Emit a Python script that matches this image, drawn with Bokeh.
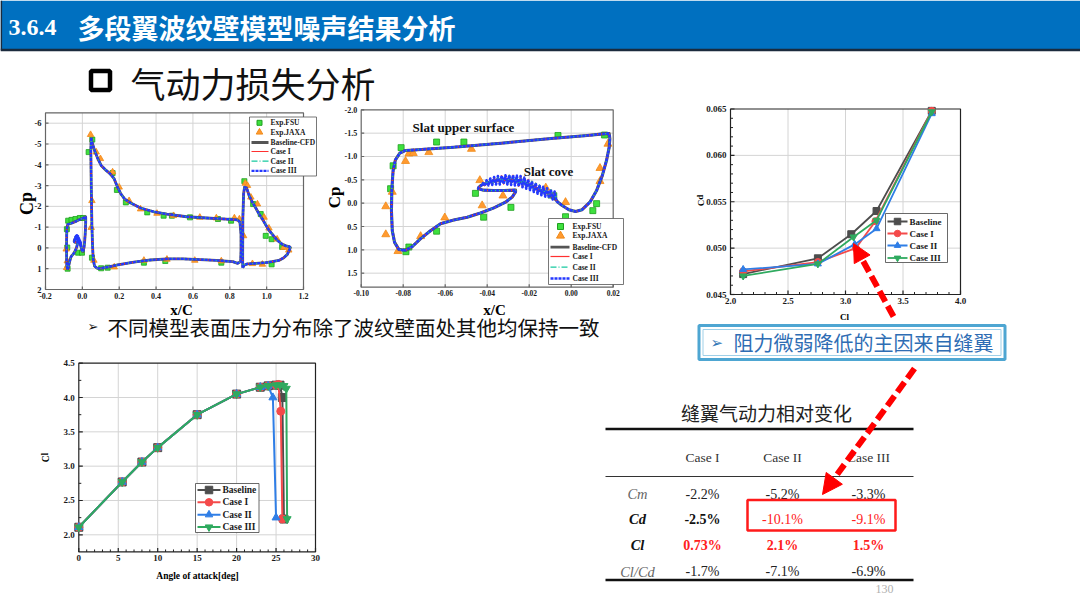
from bokeh.plotting import figure
from bokeh.models import Range1d, Arrow, NormalHead
from bokeh.core.properties import value
from bokeh.embed import file_html
from bokeh.resources import INLINE

# ======================= DATA =======================
# --- Slat Cp (shared by both Cp charts) ---
slat_up_x = [-0.0797, -0.0821, -0.0841, -0.0852, -0.0856, -0.0854, -0.0848, -0.0837, -0.0816, -0.0789,
             -0.0749, -0.0559, -0.0321, -0.0083, 0.0076, 0.0164, 0.0181, 0.0184, 0.0181, 0.0168,
             0.0148, 0.0121, 0.0089, 0.0052, 0.0021, -0.0011, -0.0043, -0.0063]
slat_up_cp = [1.01, 0.99, 0.84, 0.59, 0.16, -0.31, -0.70, -0.93, -1.07, -1.13,
              -1.14, -1.20, -1.29, -1.39, -1.45, -1.49, -1.49, -1.38, -1.20, -0.91,
              -0.59, -0.27, -0.02, 0.14, 0.18, 0.14, 0.05, -0.02]
# corrugated (wavy) cove wall - cases
cove_case_x = [-0.0070, -0.0079, -0.0088, -0.0097, -0.0106, -0.0115, -0.0124, -0.0133, -0.0142, -0.0151,
               -0.0160, -0.0169, -0.0178, -0.0187, -0.0196, -0.0205, -0.0214, -0.0223, -0.0232, -0.0241,
               -0.0250, -0.0259, -0.0268, -0.0277, -0.0286, -0.0295, -0.0304, -0.0313, -0.0322, -0.0331,
               -0.0340, -0.0349, -0.0358, -0.0367, -0.0376, -0.0385, -0.0394, -0.0403, -0.0412, -0.0421,
               -0.0430]
cove_case_cp = [-0.04, -0.25, -0.08, -0.29, -0.11, -0.32, -0.14, -0.35, -0.17, -0.39,
                -0.20, -0.43, -0.24, -0.47, -0.28, -0.51, -0.31, -0.55, -0.34, -0.58,
                -0.36, -0.59, -0.38, -0.60, -0.39, -0.60, -0.40, -0.60, -0.41, -0.59,
                -0.40, -0.58, -0.40, -0.56, -0.39, -0.53, -0.38, -0.49, -0.37, -0.43,
                -0.37]
# smooth cove wall - baseline
cove_base_x = [-0.0070, -0.0115, -0.0151, -0.0187, -0.0223, -0.0259, -0.0295, -0.0331, -0.0367, -0.0403, -0.0430]
cove_base_cp = [-0.06, -0.22, -0.28, -0.36, -0.44, -0.48, -0.50, -0.50, -0.48, -0.43, -0.38]
slat_low_x = [-0.0440, -0.0442, -0.0420, -0.0370, -0.0320, -0.0265, -0.0265, -0.0281, -0.0313, -0.0368,
              -0.0432, -0.0495, -0.0559, -0.0622, -0.0670, -0.0717, -0.0757, -0.0789, -0.0797]
slat_low_cp = [-0.34, -0.31, -0.28, -0.27, -0.27, -0.28, -0.24, -0.13, -0.02, 0.10,
               0.21, 0.30, 0.36, 0.44, 0.59, 0.76, 0.93, 1.01, 1.01]

# --- Main element and flap Cp ---
main_x = [0.048, 0.052, 0.066, 0.084, 0.102, 0.129, 0.155, 0.173, 0.191, 0.209, 0.230, 0.2625, 0.316,
          0.3875, 0.459, 0.566, 0.673, 0.780, 0.843, 0.855, 0.861, 0.861, 0.859, 0.843, 0.816, 0.727,
          0.6375, 0.548, 0.459, 0.370, 0.280, 0.191, 0.1375, 0.102, 0.080, 0.066, 0.059, 0.055, 0.052,
          0.048, 0.046, 0.048]
main_cp = [-5.30, -5.10, -4.69, -4.29, -3.97, -3.73, -3.53, -3.32, -2.92, -2.60, -2.35, -2.16, -1.92,
           -1.74, -1.63, -1.50, -1.44, -1.39, -1.35, -1.23, -0.66, 0.15, 0.66, 0.74, 0.66, 0.60,
           0.56, 0.53, 0.53, 0.58, 0.68, 0.82, 0.92, 0.98, 0.98, 0.87, 0.55, -0.18, -0.98,
           -3.08, -4.69, -5.30]
flap_x = [0.870, 0.870, 0.871, 0.875, 0.880, 0.891, 0.905, 0.923, 0.941, 0.959, 0.977, 0.995, 1.0125,
          1.030, 1.057, 1.084, 1.105, 1.123, 1.129, 1.123, 1.1125, 1.093, 1.066, 1.030, 0.995, 0.941,
          0.896, 0.879, 0.870]
flap_cp = [0.95, 0.15, -1.47, -2.60, -2.92, -2.89, -2.52, -2.19, -1.92, -1.63, -1.39, -1.11, -0.85,
           -0.66, -0.37, -0.18, -0.10, -0.06, -0.02, 0.11, 0.31, 0.47, 0.60, 0.66, 0.71, 0.74,
           0.77, 0.82, 0.95]

# --- Experiments, full-airfoil chart ---
fsu_full = [(-0.077, -1.31), (-0.059, -1.35), (-0.0375, -1.39), (-0.014, -1.44), (0.004, -1.44),
            (-0.084, -0.90), (-0.082, -0.02), (-0.080, 1.00), (-0.023, 0.23), (-0.002, 0.23),
            (0.034, -4.61), (0.054, -5.21), (0.164, -3.60), (0.1875, -2.79), (0.236, -2.19),
            (0.352, -1.71), (0.441, -1.55), (0.486, -1.55), (0.584, -1.47), (0.736, -1.39),
            (0.807, -1.31), (0.052, 0.47), (0.102, 0.98), (0.1375, 0.95), (0.334, 0.71),
            (0.45, 0.63), (0.754, 0.71), (0.879, -3.21), (0.9268, -2.11), (0.968, -1.63),
            (0.995, -0.58), (1.027, -0.42), (1.084, -0.05), (1.027, 0.79)]
jaxa_full = [(-0.0875, 0.06), (-0.082, 0.63), (-0.0857, 0.95), (0.0446, -5.45), (0.075, -4.61),
             (0.098, -4.29), (0.164, -3.65), (0.200, -2.92), (0.2536, -2.27), (0.316, -1.87),
             (0.405, -1.66), (0.495, -1.55), (0.6375, -1.47), (0.727, -1.44), (0.825, -1.44),
             (0.852, -1.39), (0.048, -0.98), (0.052, -2.27), (0.0625, 0.60), (0.173, 0.92),
             (0.334, 0.60), (0.459, 0.55), (0.610, 0.60), (0.754, 0.63), (0.875, -0.58),
             (0.884, -3.11), (0.896, -3.00), (0.9143, -2.44), (0.950, -2.11), (0.986, -1.47),
             (1.0125, -0.95), (1.057, -0.42), (1.093, -0.02), (1.120, 0.11), (0.977, 0.79),
             (0.923, 0.76)]

# --- Experiments, slat chart ---
fsu_slat = [(-0.0810, -1.19), (-0.0848, -0.80), (-0.0860, -0.31), (-0.0787, 1.04), (-0.0773, 0.94),
            (-0.0641, -1.31), (-0.0511, -1.31), (-0.0063, -1.45), (0.0159, -1.46), (-0.0456, -0.21),
            (-0.0417, 0.30), (-0.0287, 0.09), (-0.0083, -0.16), (-0.0027, 0.29), (0.0103, 0.16),
            (0.0121, 0.01), (-0.0641, 0.60)]
jaxa_slat = [(-0.0883, 0.07), (-0.0883, 0.67), (-0.0852, -0.24), (-0.0825, 1.03), (-0.0789, -0.90),
             (-0.0773, -1.06), (-0.0752, -1.07), (-0.0678, -1.09), (-0.0475, -1.16), (-0.0717, 0.71),
             (-0.0602, 0.31), (-0.0424, 0.05), (-0.0435, -0.49), (-0.0325, -0.16), (-0.0121, -0.33),
             (-0.0027, -0.02), (0.0137, -0.75), (0.0137, -0.47), (0.0175, -1.27)]

# --- Cd vs Cl ---
cl_base = [2.11, 2.76, 3.05, 3.27, 3.75]
cd_base = [0.0472, 0.0489, 0.0515, 0.0540, 0.0648]
cl_c1 = [2.11, 2.76, 3.09, 3.26, 3.75]
cd_c1 = [0.0475, 0.0485, 0.0500, 0.0529, 0.0648]
cl_c2 = [2.11, 2.76, 3.08, 3.27, 3.75]
cd_c2 = [0.0477, 0.0483, 0.0504, 0.0521, 0.0645]
cl_c3 = [2.11, 2.76, 3.07, 3.27, 3.75]
cd_c3 = [0.0470, 0.0483, 0.0512, 0.0530, 0.0647]

# --- Cl vs angle of attack ---
aoa_base = [0, 5.5, 8, 10, 15, 20, 23, 24, 25, 25.5, 25.8, 26.0]
cla_base = [2.11, 2.77, 3.06, 3.27, 3.75, 4.05, 4.15, 4.17, 4.18, 4.18, 4.00, 2.23]
aoa_c1 = [0, 5.5, 8, 10, 15, 20, 23, 24, 25, 25.3, 25.6, 25.8]
cla_c1 = [2.11, 2.77, 3.06, 3.27, 3.75, 4.05, 4.15, 4.17, 4.18, 4.19, 3.80, 2.23]
aoa_c2 = [0, 5.5, 8, 10, 15, 20, 23, 24, 24.6, 25.0]
cla_c2 = [2.11, 2.77, 3.06, 3.27, 3.75, 4.05, 4.15, 4.17, 4.00, 2.25]
aoa_c3 = [0, 5.5, 8, 10, 15, 20, 23, 24, 25, 25.5, 26.0, 26.3, 26.4]
cla_c3 = [2.11, 2.77, 3.06, 3.27, 3.75, 4.05, 4.15, 4.17, 4.18, 4.18, 4.17, 4.13, 2.23]

# --- Table ---
tbl_title = "缝翼气动力相对变化"
tbl_cols = ["Case I", "Case II", "Case III"]
tbl_rows = ["Cm", "Cd", "Cl", "Cl/Cd"]
tbl_vals = [["-2.2%", "-5.2%", "-3.3%"],
            ["-2.5%", "-10.1%", "-9.1%"],
            ["0.73%", "2.1%", "1.5%"],
            ["-1.7%", "-7.1%", "-6.9%"]]

# --- Tick labels ---
c1_xt = [-0.2, 0.0, 0.2, 0.4, 0.6, 0.8, 1.0, 1.2]
c1_xl = ["-0.2", "0.0", "0.2", "0.4", "0.6", "0.8", "1.0", "1.2"]
c1_yt = [-6, -5, -4, -3, -2, -1, 0, 1, 2]
c1_yl = ["-6", "-5", "-4", "-3", "-2", "-1", "0", "1", "2"]
c2_xt = [-0.10, -0.08, -0.06, -0.04, -0.02, 0.00, 0.02]
c2_xl = ["-0.10", "-0.08", "-0.06", "-0.04", "-0.02", "0.00", "0.02"]
c2_yt = [-2.0, -1.5, -1.0, -0.5, 0.0, 0.5, 1.0, 1.5]
c2_yl = ["-2.0", "-1.5", "-1.0", "-0.5", "0.0", "0.5", "1.0", "1.5"]
c3_xt = [2.0, 2.5, 3.0, 3.5, 4.0]
c3_xl = ["2.0", "2.5", "3.0", "3.5", "4.0"]
c3_yt = [0.045, 0.050, 0.055, 0.060, 0.065]
c3_yl = ["0.045", "0.050", "0.055", "0.060", "0.065"]
c4_xt = [0, 5, 10, 15, 20, 25, 30]
c4_xl = ["0", "5", "10", "15", "20", "25", "30"]
c4_yt = [2.0, 2.5, 3.0, 3.5, 4.0, 4.5]
c4_yl = ["2.0", "2.5", "3.0", "3.5", "4.0", "4.5"]

# ======================= FIGURE =======================
W, H = 1080, 607
p = figure(width=W, height=H, x_range=Range1d(0, W), y_range=Range1d(H, 0),
           output_backend="svg", toolbar_location=None, min_border=0, tools="",
           x_axis_location=None, y_axis_location=None)
p.xgrid.visible = False
p.ygrid.visible = False
p.outline_line_color = None
p.background_fill_color = "white"
p.border_fill_color = "white"

SERIF = value("Liberation Serif")
CJK = value("Noto Sans CJK SC")
SYM = value("DejaVu Sans")


def txt(x, y, s, size, font=SERIF, style="normal", color="#000000", align="left",
        base="middle", angle=0.0, **kw):
    p.text(x=[x], y=[y], text=[s], text_font=font, text_font_size=f"{size}px",
           text_font_style=style, text_color=color, text_align=align,
           text_baseline=base, angle=angle, **kw)


class Chart:
    """A sub-plot: its own x/y ranges mapped onto a pixel box of the page."""
    def __init__(self, name, xd, xp, yd, yp):
        (x0, x1), (px0, px1) = xd, xp
        self.sx = (x1 - x0) / (px1 - px0)
        (y0, y1), (py0, py1) = yd, yp
        self.sy = (y1 - y0) / (py1 - py0)
        p.extra_x_ranges[name + "x"] = Range1d(x0 - px0 * self.sx, x0 + (W - px0) * self.sx)
        p.extra_y_ranges[name + "y"] = Range1d(y0 + (H - py0) * self.sy, y0 - py0 * self.sy)
        self.kw = dict(x_range_name=name + "x", y_range_name=name + "y")


def draw_axes(c, xlim, ylim, xt, xl, yt, yl, fs, gx, gy, xminor=(), yminor=(),
              frame="#444444", tmaj=4, tmin=2.5, yfs=None):
    x0, x1 = xlim
    y0, y1 = ylim
    kw = c.kw
    if gx:
        p.segment(x0=gx, y0=[y0] * len(gx), x1=gx, y1=[y1] * len(gx),
                  line_color="#d4d4d4", line_width=1, **kw)
    if gy:
        p.segment(x0=[x0] * len(gy), y0=gy, x1=[x1] * len(gy), y1=gy,
                  line_color="#d4d4d4", line_width=1, **kw)
    p.quad(left=[x0], right=[x1], bottom=[y0], top=[y1], fill_color=None,
           line_color=frame, line_width=1.2, **kw)
    p.segment(x0=xt, y0=[y0] * len(xt), x1=xt, y1=[y0 - tmaj * c.sy] * len(xt),
              line_color=frame, line_width=1.2, **kw)
    p.segment(x0=[x0] * len(yt), y0=yt, x1=[x0 + tmaj * c.sx] * len(yt), y1=yt,
              line_color=frame, line_width=1.2, **kw)
    if xminor:
        xm = list(xminor)
        p.segment(x0=xm, y0=[y0] * len(xm), x1=xm, y1=[y0 - tmin * c.sy] * len(xm),
                  line_color=frame, line_width=1, **kw)
    if yminor:
        ym = list(yminor)
        p.segment(x0=[x0] * len(ym), y0=ym, x1=[x0 + tmin * c.sx] * len(ym), y1=ym,
                  line_color=frame, line_width=1, **kw)
    p.text(x=xt, y=[y0 + 3 * c.sy] * len(xt), text=xl, text_align="center",
           text_baseline="top", text_font=SERIF, text_font_style="bold",
           text_font_size=f"{fs}px", text_color="#1a1a1a", **kw)
    p.text(x=[x0 - 4 * c.sx] * len(yt), y=yt, text=yl, text_align="right",
           text_baseline="middle", text_font=SERIF, text_font_style="bold",
           text_font_size=f"{yfs or fs}px", text_color="#1a1a1a", **kw)


# ---------------- Title bar ----------------
p.quad(left=[0], right=[W], top=[0], bottom=[49], fill_color="#0070c0", line_color=None)
p.line([0, W], [49.5, 49.5], line_color="#1b2b3d", line_width=2.5)
p.line([0.8, 0.8], [0, 50], line_color="#1b2b3d", line_width=1.6)
txt(8, 27, "3.6.4", 24, style="bold", color="white")
txt(77, 27, "多段翼波纹壁模型噪声结果分析", 27, font=CJK, style="bold", color="white")

# ---------------- Section heading ----------------
p.quad(left=[90.5], right=[109.5], top=[70.5], bottom=[89.5], fill_color=None,
       line_color="black", line_width=4.5)
txt(130, 82, "气动力损失分析", 35, font=CJK, color="#111111")

# ======================= Chart 1: full airfoil Cp =======================
c1 = Chart("c1", (-0.2, 1.2), (45, 303), (2.0, -6.0), (289, 122.7))
draw_axes(c1, (-0.2, 1.2), (2.0, -6.5), c1_xt, c1_xl, c1_yt, c1_yl, 8,
          [0.0, 0.2, 0.4, 0.6, 0.8, 1.0], [-6, -5, -4, -3, -2, -1, 0, 1],
          frame="#666666", tmaj=3, yfs=8.5)

p.scatter([a for a, b in fsu_full], [b for a, b in fsu_full], marker="square", size=5,
          fill_color="#3ee03e", line_color="#1f9f1f", line_width=0.8, **c1.kw)
p.scatter([a for a, b in jaxa_full], [b for a, b in jaxa_full], marker="triangle", size=6.5,
          fill_color="#ff9a30", line_color="#f08a18", line_width=0.8, **c1.kw)

slat_base_x = slat_up_x + cove_base_x + slat_low_x
slat_base_cp = slat_up_cp + cove_base_cp + slat_low_cp
slat_case_x = slat_up_x + cove_case_x + slat_low_x
slat_case_cp = slat_up_cp + cove_case_cp + slat_low_cp

STY = [("#555555", 2.8, "solid"), ("#ff3030", 1.2, "solid"),
       ("#16c9a0", 1.3, "6 2 1 2"), ("#2438ff", 2.3, "3 1")]


def cp_lines(c, elements, widths_scale=1.0):
    for k, (col, lw, dash) in enumerate(STY):
        for ex_b, ey_b, ex_c, ey_c in elements:
            xs, ys = (ex_b, ey_b) if k == 0 else (ex_c, ey_c)
            p.line(xs, ys, line_color=col, line_width=lw * widths_scale, line_dash=dash,
                   line_join="round", **c.kw)


cp_lines(c1, [(slat_base_x, slat_base_cp, slat_case_x, slat_case_cp),
              (main_x, main_cp, main_x, main_cp),
              (flap_x, flap_cp, flap_x, flap_cp)])

# legend chart 1
p.quad(left=[249], right=[316], top=[116.5], bottom=[175.5], fill_color="white",
       line_color="#555555", line_width=0.8)
lg1_y = [122.3, 131.7, 142.0, 151.0, 160.7, 170.3]
lg_names = ["Exp.FSU", "Exp.JAXA", "Baseline-CFD", "Case I", "Case II", "Case III"]
p.scatter([259], [lg1_y[0]], marker="square", size=5, fill_color="#3ee03e", line_color="#1f9f1f")
p.scatter([259], [lg1_y[1]], marker="triangle", size=6.5, fill_color="#ff9a30", line_color="#f08a18")
for (col, lw, dash), yy in zip(STY, lg1_y[2:]):
    p.line([251, 268], [yy, yy], line_color=col, line_width=lw, line_dash=dash)
p.text(x=[270] * 6, y=lg1_y, text=lg_names, text_font=SERIF, text_font_style="bold",
       text_font_size="7.5px", text_baseline="middle", text_color="#1a1a1a")

txt(26, 203, "Cp", 18, style="bold", align="center", angle=1.5708)
txt(181, 309, "x/C", 15, style="bold", align="center")

# ======================= Chart 2: slat Cp =======================
c2 = Chart("c2", (-0.10, 0.02), (360.7, 612.7), (1.5, -2.0), (272.67, 109.33))
draw_axes(c2, (-0.10, 0.02), (1.8, -2.0), c2_xt, c2_xl, c2_yt, c2_yl, 7.5,
          [-0.08, -0.06, -0.04, -0.02, 0.0], [-1.5, -1.0, -0.5, 0.0, 0.5, 1.0, 1.5],
          frame="#666666", tmaj=3, yfs=8)

p.scatter([a for a, b in fsu_slat], [b for a, b in fsu_slat], marker="square", size=6,
          fill_color="#3ee03e", line_color="#1f9f1f", line_width=0.8, **c2.kw)
p.scatter([a for a, b in jaxa_slat], [b for a, b in jaxa_slat], marker="triangle", size=8,
          fill_color="#ff9a30", line_color="#f08a18", line_width=0.8, **c2.kw)
cp_lines(c2, [(slat_base_x, slat_base_cp, slat_case_x, slat_case_cp)], widths_scale=1.1)

txt(463, 127, "Slat upper surface", 13, style="bold", align="center", color="#111111")
txt(548, 171, "Slat cove", 13, style="bold", align="center", color="#111111")

p.quad(left=[548], right=[623], top=[218], bottom=[284], fill_color="white",
       line_color="#555555", line_width=0.8)
lg2_y = [226.0, 235.3, 246.7, 256.0, 266.7, 278.0]
p.scatter([560], [lg2_y[0]], marker="square", size=6, fill_color="#3ee03e", line_color="#1f9f1f")
p.scatter([560], [lg2_y[1]], marker="triangle", size=8, fill_color="#ff9a30", line_color="#f08a18")
for (col, lw, dash), yy in zip(STY, lg2_y[2:]):
    p.line([550, 569], [yy, yy], line_color=col, line_width=lw, line_dash=dash)
p.text(x=[572] * 6, y=lg2_y, text=lg_names, text_font=SERIF, text_font_style="bold",
       text_font_size="7.5px", text_baseline="middle", text_color="#1a1a1a")

txt(334, 197, "Cp", 17, style="bold", align="center", angle=1.5708)
txt(494, 309, "x/C", 15, style="bold", align="center")

# ---------------- bullet text ----------------
txt(87, 326, "➢", 13, font=SYM, color="#111111")
txt(107, 326, "不同模型表面压力分布除了波纹壁面处其他均保持一致", 20.5, font=CJK, color="#111111")

# ======================= Chart 3: Cd vs Cl =======================
SER = [("Baseline", "#4d4d4d", "square"), ("Case I", "#f44a4a", "circle"),
       ("Case II", "#2f7ee6", "triangle"), ("Case III", "#2faa5f", "inverted_triangle")]
c3 = Chart("c3", (2.0, 4.0), (730, 960), (0.045, 0.065), (294, 108.5))
draw_axes(c3, (2.0, 4.0), (0.045, 0.065), c3_xt, c3_xl, c3_yt, c3_yl, 9,
          [2.5, 3.0, 3.5], [0.050, 0.055, 0.060],
          xminor=[2.0 + 0.1 * i for i in range(1, 20) if i % 5],
          yminor=[0.045 + 0.001 * i for i in range(1, 20) if i % 5],
          frame="#222222")
for (nm, col, mk), xs, ys in zip(SER, [cl_base, cl_c1, cl_c2, cl_c3], [cd_base, cd_c1, cd_c2, cd_c3]):
    p.line(xs, ys, line_color=col, line_width=1.8, **c3.kw)
    p.scatter(xs, ys, marker=mk, size=7, fill_color=col, line_color=col, **c3.kw)

p.quad(left=[885], right=[947], top=[213], bottom=[262], fill_color="white",
       line_color="#444444", line_width=0.8)
lg3_y = [221.0, 233.0, 245.0, 257.5]
for (nm, col, mk), yy in zip(SER, lg3_y):
    p.line([887, 907], [yy, yy], line_color=col, line_width=1.8)
    p.scatter([897], [yy], marker=mk, size=6.5, fill_color=col, line_color=col)
p.text(x=[909] * 4, y=lg3_y, text=[s[0] for s in SER], text_font=SERIF, text_font_style="bold",
       text_font_size="9px", text_baseline="middle", text_color="#1a1a1a")
txt(700, 200, "Cd", 9, style="bold", align="center", angle=1.5708)
txt(844, 316, "Cl", 9, style="bold", align="center")

# ======================= Chart 4: Cl vs alpha =======================
c4 = Chart("c4", (0.0, 30.0), (78.3, 315), (2.0, 4.5), (534.3, 362.7))
draw_axes(c4, (0.0, 30.0), (1.75, 4.5), c4_xt, c4_xl, c4_yt, c4_yl, 9,
          [5, 10, 15, 20, 25], [2.0, 2.5, 3.0, 3.5, 4.0],
          xminor=[i for i in range(1, 30) if i % 5],
          yminor=[2.25, 2.75, 3.25, 3.75, 4.25],
          frame="#222222")
for (nm, col, mk), xs, ys in zip(SER, [aoa_base, aoa_c1, aoa_c2, aoa_c3],
                                 [cla_base, cla_c1, cla_c2, cla_c3]):
    p.line(xs, ys, line_color=col, line_width=2, **c4.kw)
    p.scatter(xs, ys, marker=mk, size=8, fill_color=col, line_color=col, **c4.kw)

p.quad(left=[195], right=[258.5], top=[483], bottom=[532], fill_color="white",
       line_color="#444444", line_width=0.8)
lg4_y = [489.5, 501.8, 514.2, 526.6]
for (nm, col, mk), yy in zip(SER, lg4_y):
    p.line([197, 220], [yy, yy], line_color=col, line_width=2)
    p.scatter([208.5], [yy], marker=mk, size=7.5, fill_color=col, line_color=col)
p.text(x=[222] * 4, y=lg4_y, text=[s[0] for s in SER], text_font=SERIF, text_font_style="bold",
       text_font_size="9.5px", text_baseline="middle", text_color="#1a1a1a")
txt(45, 457, "Cl", 9.5, style="bold", align="center", angle=1.5708)
txt(197, 575, "Angle of attack[deg]", 9.5, style="bold", align="center")

# ======================= Callout =======================
p.quad(left=[698.5], right=[1004.5], top=[325], bottom=[359], fill_color="white",
       line_color="#4ea6d2", line_width=3)
p.quad(left=[702.5], right=[1000.5], top=[329], bottom=[355], fill_color=None,
       line_color="#9fd0e8", line_width=1)
txt(710, 342, "➢", 15, font=SYM, color="#2e75b6")
txt(733, 342, "阻力微弱降低的主因来自缝翼", 20, font=CJK, color="#2e6db4")

# ======================= Table =======================
txt(766, 412, tbl_title, 19, font=CJK, color="#222222", align="center")
p.line([605, 913], [428.5, 428.5], line_color="#111111", line_width=2.5)
p.line([605, 913], [476, 476], line_color="#333333", line_width=1)
p.line([605, 913], [579.5, 579.5], line_color="#111111", line_width=2.5)
col_x = [702, 782, 868]
row_y = [493.5, 518.5, 544.5, 571]
p.text(x=col_x, y=[457] * 3, text=tbl_cols, text_font=SERIF, text_font_size="13.5px",
       text_align="center", text_baseline="middle", text_color="#333333")
row_style = [("italic", "#666666"), ("bold italic", "#111111"), ("bold italic", "#111111"),
             ("italic", "#666666")]
for (st, cl), nm, yy in zip(row_style, tbl_rows, row_y):
    txt(637, yy, nm, 14.5, style=st, color=cl, align="center")
cell_style = [[("normal", "#222222")] * 3,
              [("bold", "#111111"), ("normal", "#ff2020"), ("normal", "#ff2020")],
              [("bold", "#ff2020")] * 3,
              [("normal", "#222222")] * 3]
for r, yy in enumerate(row_y):
    for c, xx in enumerate(col_x):
        st, cl = cell_style[r][c]
        txt(xx, yy, tbl_vals[r][c], 14, style=st, color=cl, align="center")
p.quad(left=[747], right=[895], top=[499.5], bottom=[530], fill_color=None,
       line_color="#ff1a1a", line_width=2.5)
txt(884, 588, "130", 12, color="#b0b0b0", align="center")

# ======================= Red dashed arrows =======================
p.add_layout(Arrow(end=NormalHead(size=18, fill_color="#ff0000", line_color="#ff0000"),
                   x_start=893, y_start=316, x_end=853, y_end=243,
                   line_color="#ff0000", line_width=6, line_dash="12 5"))
p.add_layout(Arrow(end=NormalHead(size=20, fill_color="#ff0000", line_color="#ff0000"),
                   x_start=914, y_start=368, x_end=822, y_end=494,
                   line_color="#ff0000", line_width=6, line_dash="12 5"))

open("out.html", "w").write(file_html(p, INLINE))
